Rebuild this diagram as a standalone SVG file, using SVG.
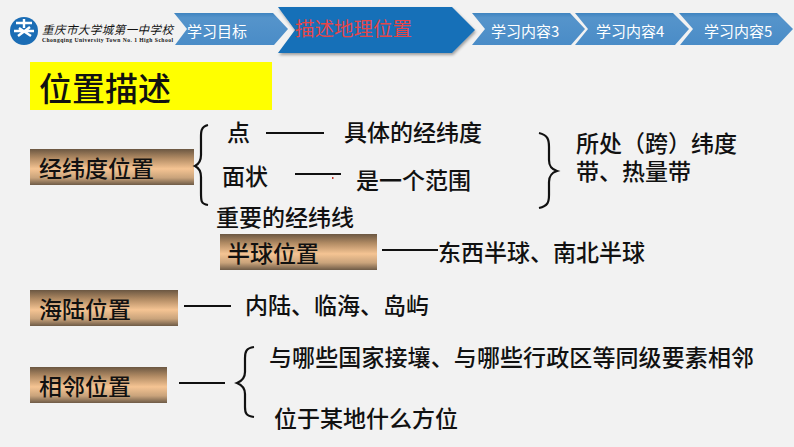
<svg xmlns="http://www.w3.org/2000/svg" width="794" height="447" viewBox="0 0 794 447">
<defs>
<linearGradient id="g" x1="0" y1="0" x2="0" y2="1"><stop offset="0" stop-color="#6b5742"/><stop offset="0.25" stop-color="#b08a63"/><stop offset="0.55" stop-color="#f5c493"/><stop offset="0.8" stop-color="#c9a37b"/><stop offset="1" stop-color="#6e5b47"/></linearGradient>
<linearGradient id="ta" x1="0" y1="0" x2="0" y2="1"><stop offset="0" stop-color="#3f84c0"/><stop offset="0.15" stop-color="#5594cb"/><stop offset="1" stop-color="#4a8cc7"/></linearGradient>
<filter id="s" x="-5%" y="-10%" width="110%" height="130%"><feDropShadow dx="1" dy="2" stdDeviation="1.5" flood-color="#000" flood-opacity="0.35"/></filter>
</defs>
<style>
text{font-family:"Noto Sans CJK SC","Liberation Sans",sans-serif;fill:#111}
.t{font-size:23px;font-weight:500}
.n{font-size:23px;font-weight:500}
.tab{font-size:15px;fill:#fff}
.c{fill:none;stroke:#111;stroke-width:2.2}
.b{fill:url(#g)}
.a{fill:url(#ta)}
</style>
<rect width="794" height="447" fill="#f2f2f2"/>
<g id="logo">
<circle cx="24" cy="31" r="14" fill="#1b6db5"/>
<path d="M16 23h16M24 19v9M14 31h20M30 27l-12 9M19 28l12 8" stroke="#fff" stroke-width="2.4" fill="none"/>
<text x="42" y="34" font-size="11.5" font-style="italic" textLength="131" lengthAdjust="spacing">重庆市大学城第一中学校</text>
<text x="42" y="42" font-size="5.6" font-weight="700" textLength="131" style="font-family:'Liberation Serif',serif" fill="#222">Chongqing University Town No. 1 High School</text>
</g>
<g id="tab1"><path class="a" d="M174 13H273L288 29L274 45H175L187 29Z"/><text class="tab" x="187" y="37">学习目标</text></g>
<g id="tab2"><path d="M278 7H452L475 30L452 53H278L295 30Z" fill="#186fb8" filter="url(#s)"/><text x="295" y="36" font-size="19.5" style="fill:#e4474a">描述地理位置</text></g>
<g id="tab3"><path class="a" d="M472 13H570L585 29L571 45H472L485 29Z"/><text class="tab" x="491" y="37">学习内容3</text></g>
<g id="tab4"><path class="a" d="M575 13H673L689 29L675 45H575L588 29Z"/><text class="tab" x="596" y="37">学习内容4</text></g>
<g id="tab5"><path class="a" d="M679 13H777L793 29L778 45H680L693 29Z"/><text class="tab" x="704" y="37">学习内容5</text></g>
<g id="title"><rect x="30" y="62" width="242" height="48" fill="#ff0"/><text x="39" y="101" font-size="33" font-weight="500">位置描述</text></g>
<g id="n1"><rect class="b" x="30" y="149" width="164" height="36"/><text class="n" x="39" y="177">经纬度位置</text></g>
<g id="n2"><rect class="b" x="220" y="234" width="157" height="36"/><text class="n" x="227" y="262">半球位置</text></g>
<g id="n3"><rect class="b" x="30" y="290" width="148" height="36"/><text class="n" x="39" y="318">海陆位置</text></g>
<g id="n4"><rect class="b" x="30" y="367" width="137" height="36"/><text class="n" x="39" y="395">相邻位置</text></g>
<g id="connectors">
<path class="c" d="M266 133H324M295 174H341M382 250H438M184 306H231M179 383H225"/>
<path class="c" d="M208 125C200 127 201 133 201 140V155C201 161 199 164 195 166C199 168 201 171 201 177V193C201 201 201 204 208 205"/>
<path class="c" d="M539 133C548 135 549 140 549 147V160C549 166 551 169 557 171C551 173 549 176 549 182V195C549 202 548 206 539 208"/>
<path class="c" d="M254 347C246 348 245 352 245 358V372C245 378 242 381 237 383C242 385 245 388 245 394V407C245 413 246 416 254 417"/>
<rect x="332" y="177" width="1.5" height="2" fill="#c0392b"/>
</g>
<g id="labels">
<text class="t" x="227" y="141">点</text>
<text class="t" x="344" y="141">具体的经纬度</text>
<text class="t" x="222" y="185">面状</text>
<text class="t" x="356" y="189">是一个范围</text>
<text class="t" x="216" y="226">重要的经纬线</text>
<text class="t" x="438" y="261">东西半球、南北半球</text>
<text class="t" x="245" y="314">内陆、临海、岛屿</text>
<text class="t" x="269" y="366" textLength="485">与哪些国家接壤、与哪些行政区等同级要素相邻</text>
<text class="t" x="274" y="427">位于某地什么方位</text>
<text class="t"><tspan x="576" y="152">所处（跨）纬度</tspan><tspan x="576" y="180">带、热量带</tspan></text>
</g>
</svg>
